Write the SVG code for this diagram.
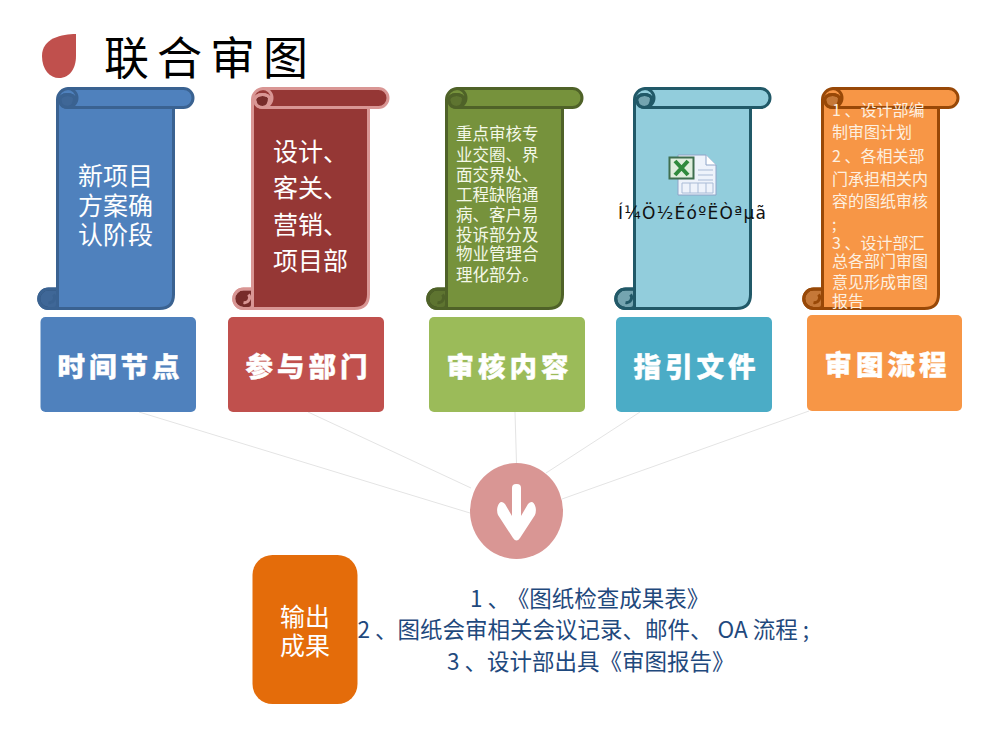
<svg xmlns="http://www.w3.org/2000/svg" width="1000" height="750" viewBox="0 0 1000 750">
<style>
text{font-family:"Noto Sans CJK SC","Noto Sans",sans-serif}
.w25{font-size:25px;fill:#fff}
.g{font-size:16.5px;fill:#f4f8e8}
.o{font-size:16px;fill:#fdf0e0}
.lb{font-size:27.500px;font-weight:900;fill:#fff;letter-spacing:4px;text-anchor:middle;stroke:#fff;stroke-width:.4}
.out{font-size:22.500px;fill:#1f497d}
.conn{stroke:#e4e4e4;stroke-width:1;fill:none}
.s{stroke-width:3;stroke-linejoin:round}
.nf{fill:none}
.dk{fill:#000;fill-opacity:.2}
</style>
<defs>
<g id="scroll">
<path d="M0 11A11 11 0 0 1 11 0H126A9.500 9.500 0 0 1 126 19H116V206Q116 220 102 220H-9A9.750 9.750 0 0 1 -9 200.500H0Z"/>
<path class="dk" d="M17 9A7 5 0 0 0 3 14A7 5 0 0 0 10 19C14 19 17 16 17 9Z"/>
<path class="dk" d="M0 200.500H-9A9.750 9.750 0 0 0 -9 220H0Z"/>
<path class="nf" d="M10 0A9.500 9.500 0 0 1 10 19H116M17 9A7 5 0 0 0 3 14A7 5 0 0 0 10 19M0 11V14"/>
<path class="nf" d="M0 200.500V216Q0 220 -4 220M-9 214A5 5 0 0 0 -4 206"/>
</g>
</defs>
<g id="connectors">
<line class="conn" x1="139" y1="412" x2="470" y2="513"/>
<line class="conn" x1="308" y1="412" x2="471" y2="488"/>
<line class="conn" x1="515" y1="412" x2="516.500" y2="463"/>
<line class="conn" x1="640" y1="412" x2="546" y2="473"/>
<line class="conn" x1="809" y1="411" x2="562" y2="499"/>
</g>
<g id="title">
<path d="M76 34C62 34 42 38 42 56C42 70 50 78 59 78C70 78 76 68 76 56Z" fill="#c0504d"/>
<text x="104" y="75" font-size="45" letter-spacing="8" fill="#000">联合审图</text>
</g>
<g id="scroll-time">
<use href="#scroll" x="57.500" y="88.500" class="s" fill="#4f81bd" stroke="#3a6291"/>
<text class="w25" x="115.500" y="185" text-anchor="middle">新项目</text>
<text class="w25" x="115.500" y="215" text-anchor="middle">方案确</text>
<text class="w25" x="115.500" y="244" text-anchor="middle">认阶段</text>
</g>
<g id="scroll-dept">
<use href="#scroll" x="252.500" y="88.500" class="s" fill="#953735" stroke="#d99694"/>
<text class="w25" x="273" y="161">设计、</text>
<text class="w25" x="273" y="197">客关、</text>
<text class="w25" x="273" y="234">营销、</text>
<text class="w25" x="273" y="270">项目部</text>
</g>
<g id="scroll-content">
<use href="#scroll" x="446.500" y="88.500" class="s" fill="#76923c" stroke="#4f6228"/>
<text class="g" x="456" y="140">重点审核专</text>
<text class="g" x="456" y="161">业交圈、界</text>
<text class="g" x="456" y="181">面交界处、</text>
<text class="g" x="456" y="201">工程缺陷通</text>
<text class="g" x="456" y="221">病、客户易</text>
<text class="g" x="456" y="241">投诉部分及</text>
<text class="g" x="456" y="260">物业管理合</text>
<text class="g" x="456" y="281">理化部分。</text>
</g>
<g id="scroll-file">
<use href="#scroll" x="634.500" y="88.500" class="s" fill="#92cddc" stroke="#215968"/>
<path d="M678 155H706L716 165V195H678Z" fill="#eef3fb" stroke="#8ea4c8"/>
<path d="M706 155V165H716" fill="#fff" stroke="#8ea4c8"/>
<path d="M698 170H713M698 175H713M698 180H713M682 183H713V193H682ZM690 183V193M698 183V193M706 183V193" fill="none" stroke="#a9bbd6"/>
<rect x="669.500" y="157.500" width="24" height="21" fill="#dfeedd" stroke="#3f6f4f" stroke-width="2"/>
<path d="M675 161L688 175M688 161L675 175" stroke="#2f8a3c" stroke-width="4"/>
<text x="618" y="219" font-size="17" textLength="148" style="font-family:'DejaVu Sans',sans-serif" fill="#111">Í¼Ö½ÉóºËÒªµã</text>
</g>
<g id="scroll-flow">
<use href="#scroll" x="822.500" y="88.500" class="s" fill="#f79646" stroke="#984807"/>
<text class="o" x="832" y="116">1 、设计部编</text>
<text class="o" x="832" y="138">制审图计划</text>
<text class="o" x="832" y="162">2 、各相关部</text>
<text class="o" x="832" y="185">门承担相关内</text>
<text class="o" x="832" y="207">容的图纸审核</text>
<text class="o" x="832" y="230">;</text>
<text class="o" x="832" y="249">3 、设计部汇</text>
<text class="o" x="832" y="267">总各部门审图</text>
<text class="o" x="832" y="288">意见形成审图</text>
<text class="o" x="832" y="307">报告</text>
</g>
<g id="label-time">
<rect x="40.500" y="317" width="155.500" height="95" rx="5" fill="#4f81bd"/>
<text class="lb" x="120.500" y="376.500">时间节点</text>
</g>
<g id="label-dept">
<rect x="228" y="317" width="156" height="95" rx="5" fill="#c0504d"/>
<text class="lb" x="308.500" y="376.500">参与部门</text>
</g>
<g id="label-content">
<rect x="429" y="317" width="156" height="95" rx="5" fill="#9bbb59"/>
<text class="lb" x="509.500" y="376.500">审核内容</text>
</g>
<g id="label-file">
<rect x="616" y="317" width="156" height="95" rx="5" fill="#4bacc6"/>
<text class="lb" x="696.500" y="376.500">指引文件</text>
</g>
<g id="label-flow">
<rect x="807" y="315" width="155" height="96" rx="5" fill="#f79646"/>
<text class="lb" x="887.500" y="375">审图流程</text>
</g>
<g id="merge">
<ellipse cx="516.500" cy="511" rx="46.500" ry="48" fill="#d99694"/>
<rect x="512" y="484" width="9" height="38" rx="4" fill="#fff"/>
<path d="M512 516L505 504Q500 499 497.500 507Q496.500 511 498 515L513 538Q516.500 543 520 538L535 515Q536.500 511 535.500 507Q533 499 528 504L521 516Z" fill="#fff"/>
</g>
<g id="output">
<rect x="252.500" y="555" width="105" height="149" rx="20" fill="#e46c0a"/>
<text class="w25" x="305" y="626" text-anchor="middle">输出</text>
<text class="w25" x="305" y="655" text-anchor="middle">成果</text>
</g>
<g id="output-text">
<text class="out" x="470" y="607">1 、<tspan dx="8">《图纸检查成果表》</tspan></text>
<text class="out" x="357.500" y="638">2 、图纸会审相关会议记录、邮件、 OA 流程 ;</text>
<text class="out" x="447" y="670">3 、设计部出具《审图报告》</text>
</g>
</svg>
